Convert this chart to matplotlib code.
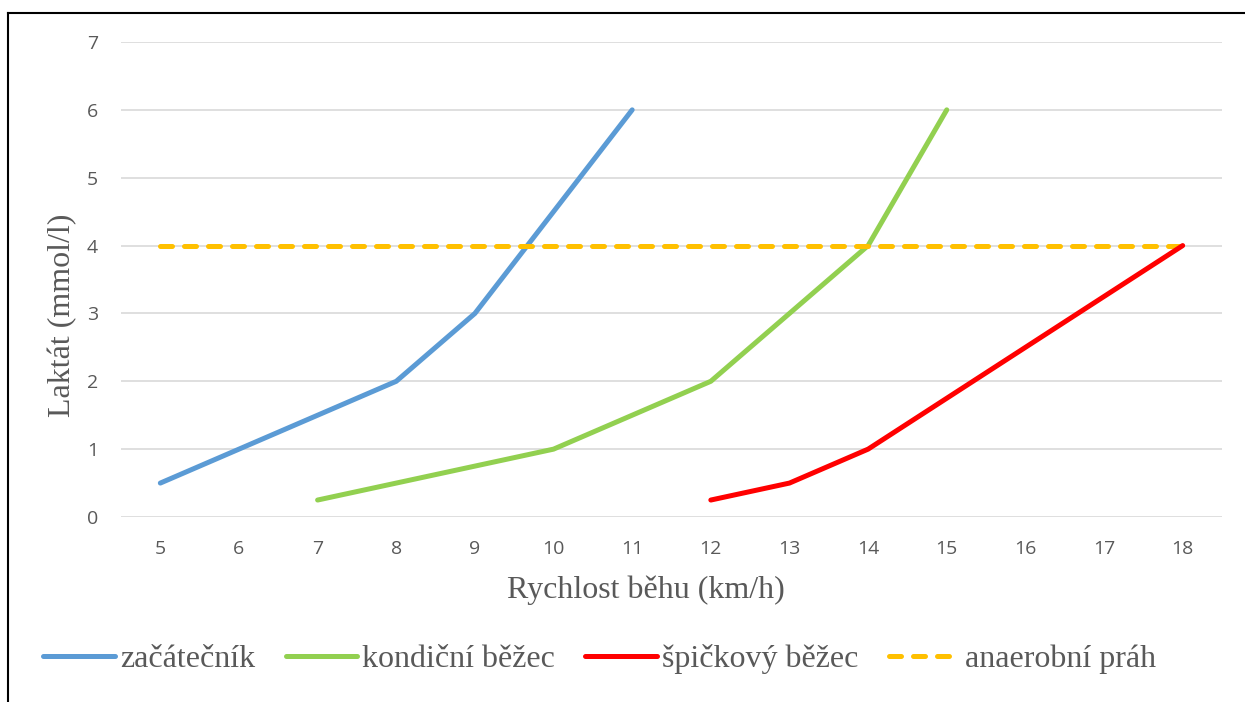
import matplotlib.pyplot as plt
from matplotlib.lines import Line2D

rychlost = [5, 6, 7, 8, 9, 10, 11, 12, 13, 14, 15, 16, 17, 18]

zac_x = [5, 6, 7, 8, 9, 10, 11]
zac_y = [0.5, 1, 1.5, 2, 3, 4.5, 6]

kond_x = [7, 8, 9, 10, 11, 12, 13, 14, 15]
kond_y = [0.25, 0.5, 0.75, 1, 1.5, 2, 3, 4, 6]

spic_x = [12, 13, 14, 15, 16, 17, 18]
spic_y = [0.25, 0.5, 1, 1.75, 2.5, 3.25, 4]

prah_y = [4] * len(rychlost)

serif = ['Liberation Serif', 'DejaVu Serif']
sans = ['Open Sans', 'DejaVu Sans']
gray = '#595959'

fig = plt.figure(figsize=(12.45, 7.02), dpi=100)
ax = fig.add_axes([121 / 1245, 185 / 702, (1222 - 121) / 1245, 475 / 702])

lw = 3.6
ax.plot(zac_x, zac_y, color='#5B9BD5', lw=lw, solid_capstyle='round', label='začátečník', zorder=3)
ax.plot(kond_x, kond_y, color='#92D050', lw=lw, solid_capstyle='round', label='kondiční běžec', zorder=3)
ax.plot(spic_x, spic_y, color='#FF0000', lw=lw, solid_capstyle='round', label='špičkový běžec', zorder=4)
ax.plot(rychlost, prah_y, color='#FFC000', lw=lw, dashes=(2.4, 2.4), dash_capstyle='round',
        label='anaerobní práh', zorder=3)

ax.set_xlim(4.5, 18.5)
ax.set_ylim(0, 7)
ax.set_xticks(rychlost)
ax.set_yticks(range(0, 8))
ax.grid(axis='y', color='#d9d9d9', lw=1.2)
ax.set_axisbelow(True)
for s in ax.spines.values():
    s.set_visible(False)
ax.tick_params(length=0, labelsize=14, labelcolor=gray)
ax.tick_params(axis='x', pad=16.5)
ax.tick_params(axis='y', pad=16.5)
for lab in ax.get_xticklabels() + ax.get_yticklabels():
    lab.set_family(sans)

ax.set_xlabel('Rychlost běhu (km/h)', fontsize=23, color=gray, family=serif, va='center')
ax.xaxis.set_label_coords((646 - 121) / 1101, -(590 - 517) / 475)
ax.set_ylabel('Laktát (mmol/l)', fontsize=23, color=gray, family=serif, va='center')
ax.yaxis.set_label_coords((63 - 121) / 1101, (517 - 315) / 475)

handles, labels = ax.get_legend_handles_labels()
leg = fig.legend(handles, labels, loc='center', bbox_to_anchor=(600 / 1245, 1 - 659 / 702), ncol=4,
                 frameon=False, prop={'family': serif, 'size': 23}, handlelength=2.25,
                 columnspacing=0.95, handletextpad=0.15)
for t in leg.get_texts():
    t.set_color(gray)

# chart border (top and left edges visible)
fig.add_artist(Line2D([8 / 1245, 8 / 1245], [0, 1 - 13 / 702], color='black', lw=1.5, transform=fig.transFigure))
fig.add_artist(Line2D([8 / 1245, 1], [1 - 13 / 702, 1 - 13 / 702], color='black', lw=1.5, transform=fig.transFigure))

fig.savefig('out.png', dpi=100)
